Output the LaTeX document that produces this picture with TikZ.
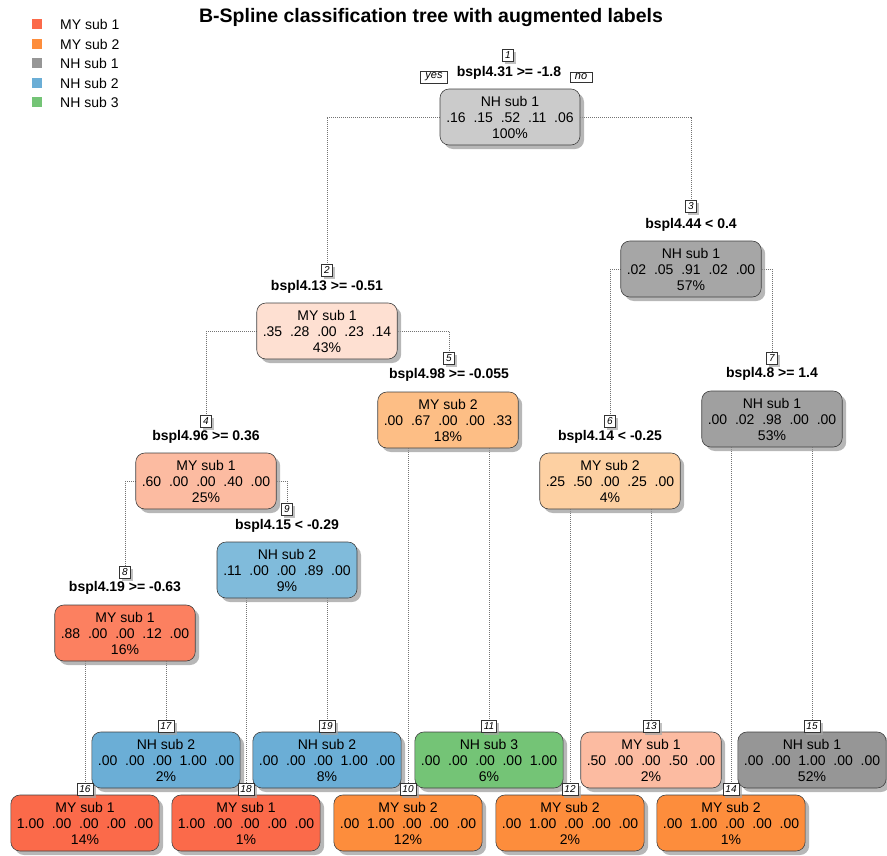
\documentclass[tikz,border=0pt]{standalone}
\usepackage{fontspec}
\setmainfont{Liberation Sans}
\usetikzlibrary{shadows}
\pgfdeclarelayer{background}
\pgfsetlayers{background,main}
\definecolor{redA}{HTML}{FB6A4A}
\definecolor{redB}{HTML}{FC8060}
\definecolor{redC}{HTML}{FCBBA1}
\definecolor{redD}{HTML}{FEE0D2}
\definecolor{orA}{HTML}{FD8D3C}
\definecolor{orB}{HTML}{FDBE85}
\definecolor{orC}{HTML}{FDD0A2}
\definecolor{grA}{HTML}{969696}
\definecolor{grB}{HTML}{A0A0A0}
\definecolor{grC}{HTML}{A6A6A6}
\definecolor{grD}{HTML}{CBCBCB}
\definecolor{blA}{HTML}{6BAED6}
\definecolor{blB}{HTML}{80BBDB}
\definecolor{gnA}{HTML}{74C476}
\newcommand\gp{\hspace{0.556em}}
\begin{document}
\begin{tikzpicture}[x=1pt,y=-1pt,
  tnode/.style={draw=black!75, line width=0.6pt, rounded corners=9pt,
    minimum width=140pt, minimum height=56pt, inner xsep=6pt, inner ysep=0pt,
    align=center, font=\fontsize{14}{16}\selectfont,
    drop shadow={shadow xshift=4pt, shadow yshift=-4pt, fill=black!40, opacity=0.7}},
  numbox/.style={draw=black!80, line width=0.5pt, fill=white,
    font=\itshape\fontsize{10}{10}\selectfont, inner xsep=2.5pt, inner ysep=1.5pt,
    minimum height=12pt,
    drop shadow={shadow xshift=2.5pt, shadow yshift=-2.5pt, fill=black!35, opacity=0.7}},
  yesno/.style={draw=black!80, line width=0.5pt, fill=white,
    font=\itshape\fontsize{11}{11}\selectfont, inner xsep=5pt, inner ysep=2pt},
  splitlab/.style={font=\bfseries\fontsize{14}{16}\selectfont},
  edge/.style={draw=black!55, line width=0.5pt, dash pattern=on 0.8pt off 1.2pt},
  legsq/.style={minimum size=10pt, inner sep=0pt},
  legtx/.style={anchor=west, font=\fontsize{14}{16}\selectfont, inner sep=0pt}
]
\useasboundingbox (0,0) rectangle (887,855);

% title
\node[font=\bfseries\fontsize{19.5}{22}\selectfont] (title) at (431,17) {B-Spline classification tree with augmented labels};

% legend
\node[legsq, fill=redA] (q1) at (37,24) {};
\node[legsq, fill=orA] (q2) at (37,44) {};
\node[legsq, fill=grA] (q3) at (37,63) {};
\node[legsq, fill=blA] (q4) at (37,83) {};
\node[legsq, fill=gnA] (q5) at (37,102) {};
\node[legtx] (t1) at (60,24) {MY sub 1};
\node[legtx] (t2) at (60,44) {MY sub 2};
\node[legtx] (t3) at (60,63) {NH sub 1};
\node[legtx] (t4) at (60,83) {NH sub 2};
\node[legtx] (t5) at (60,102) {NH sub 3};

% internal nodes
\node[tnode, fill=grD] (n1) at (510,117) {NH sub 1\\.16\gp.15\gp.52\gp.11\gp.06\\100\%};
\node[numbox] (l1) at (508,55) {1};
\node[splitlab] (s1) at (509,73) {bspl4.31 >= -1.8};
\node[yesno] (yes) at (434,77) {yes};
\node[yesno] (no) at (581,77) {no};

\node[tnode, fill=redD] (n2) at (327,331) {MY sub 1\\.35\gp.28\gp.00\gp.23\gp.14\\43\%};
\node[numbox] (l2) at (327,270) {2};
\node[splitlab] (s2) at (327,287) {bspl4.13 >= -0.51};

\node[tnode, fill=grC] (n3) at (691,269) {NH sub 1\\.02\gp.05\gp.91\gp.02\gp.00\\57\%};
\node[numbox] (l3) at (691,206) {3};
\node[splitlab] (s3) at (691,225) {bspl4.44 < 0.4};

\node[tnode, fill=redC] (n4) at (206,481) {MY sub 1\\.60\gp.00\gp.00\gp.40\gp.00\\25\%};
\node[numbox] (l4) at (206,421) {4};
\node[splitlab] (s4) at (206,437) {bspl4.96 >= 0.36};

\node[tnode, fill=orB] (n5) at (448,420) {MY sub 2\\.00\gp.67\gp.00\gp.00\gp.33\\18\%};
\node[numbox] (l5) at (449,358) {5};
\node[splitlab] (s5) at (449,375) {bspl4.98 >= -0.055};

\node[tnode, fill=orC] (n6) at (610,481) {MY sub 2\\.25\gp.50\gp.00\gp.25\gp.00\\4\%};
\node[numbox] (l6) at (610,421) {6};
\node[splitlab] (s6) at (610,437) {bspl4.14 < -0.25};

\node[tnode, fill=grB] (n7) at (772,419) {NH sub 1\\.00\gp.02\gp.98\gp.00\gp.00\\53\%};
\node[numbox] (l7) at (772,358) {7};
\node[splitlab] (s7) at (772,374) {bspl4.8 >= 1.4};

\node[tnode, fill=redB] (n8) at (125,633) {MY sub 1\\.88\gp.00\gp.00\gp.12\gp.00\\16\%};
\node[numbox] (l8) at (125,572) {8};
\node[splitlab] (s8) at (125,588) {bspl4.19 >= -0.63};

\node[tnode, fill=blB] (n9) at (287,570) {NH sub 2\\.11\gp.00\gp.00\gp.89\gp.00\\9\%};
\node[numbox] (l9) at (287,509) {9};
\node[splitlab] (s9) at (287,526) {bspl4.15 < -0.29};

% leaves, top row
\node[tnode, fill=blA] (n17) at (166,760) {NH sub 2\\.00\gp.00\gp.00\gp1.00\gp.00\\2\%};
\node[numbox] (l17) at (166,726) {17};
\node[tnode, fill=blA] (n19) at (327,760) {NH sub 2\\.00\gp.00\gp.00\gp1.00\gp.00\\8\%};
\node[numbox] (l19) at (327,726) {19};
\node[tnode, fill=gnA] (n11) at (489,760) {NH sub 3\\.00\gp.00\gp.00\gp.00\gp1.00\\6\%};
\node[numbox] (l11) at (489,726) {11};
\node[tnode, fill=redC] (n13) at (651,760) {MY sub 1\\.50\gp.00\gp.00\gp.50\gp.00\\2\%};
\node[numbox] (l13) at (651,726) {13};
\node[tnode, fill=grA] (n15) at (812,760) {NH sub 1\\.00\gp.00\gp1.00\gp.00\gp.00\\52\%};
\node[numbox] (l15) at (812,726) {15};

% leaves, bottom row
\node[tnode, fill=redA] (n16) at (85,823) {MY sub 1\\1.00\gp.00\gp.00\gp.00\gp.00\\14\%};
\node[numbox] (l16) at (85,789) {16};
\node[tnode, fill=redA] (n18) at (246,823) {MY sub 1\\1.00\gp.00\gp.00\gp.00\gp.00\\1\%};
\node[numbox] (l18) at (246,789) {18};
\node[tnode, fill=orA] (n10) at (408,823) {MY sub 2\\.00\gp1.00\gp.00\gp.00\gp.00\\12\%};
\node[numbox] (l10) at (408,789) {10};
\node[tnode, fill=orA] (n12) at (570,823) {MY sub 2\\.00\gp1.00\gp.00\gp.00\gp.00\\2\%};
\node[numbox] (l12) at (570,789) {12};
\node[tnode, fill=orA] (n14) at (731,823) {MY sub 2\\.00\gp1.00\gp.00\gp.00\gp.00\\1\%};
\node[numbox] (l14) at (731,789) {14};

% connectors
\begin{pgfonlayer}{background}
\draw[edge] (n1.west) -| (l2.north);
\draw[edge] (n1.east) -| (l3.north);
\draw[edge] (n2.west) -| (l4.north);
\draw[edge] (n2.east) -| (l5.north);
\draw[edge] (n3.west) -| (l6.north);
\draw[edge] (n3.east) -| (l7.north);
\draw[edge] (n4.west) -| (l8.north);
\draw[edge] (n4.east) -| (l9.north);
\draw[edge] (n8.south -| l16.north) -- (l16.north);
\draw[edge] (n8.south -| l17.north) -- (l17.north);
\draw[edge] (n9.south -| l18.north) -- (l18.north);
\draw[edge] (n9.south -| l19.north) -- (l19.north);
\draw[edge] (n5.south -| l10.north) -- (l10.north);
\draw[edge] (n5.south -| l11.north) -- (l11.north);
\draw[edge] (n6.south -| l12.north) -- (l12.north);
\draw[edge] (n6.south -| l13.north) -- (l13.north);
\draw[edge] (n7.south -| l14.north) -- (l14.north);
\draw[edge] (n7.south -| l15.north) -- (l15.north);
\end{pgfonlayer}
\end{tikzpicture}
\end{document}
